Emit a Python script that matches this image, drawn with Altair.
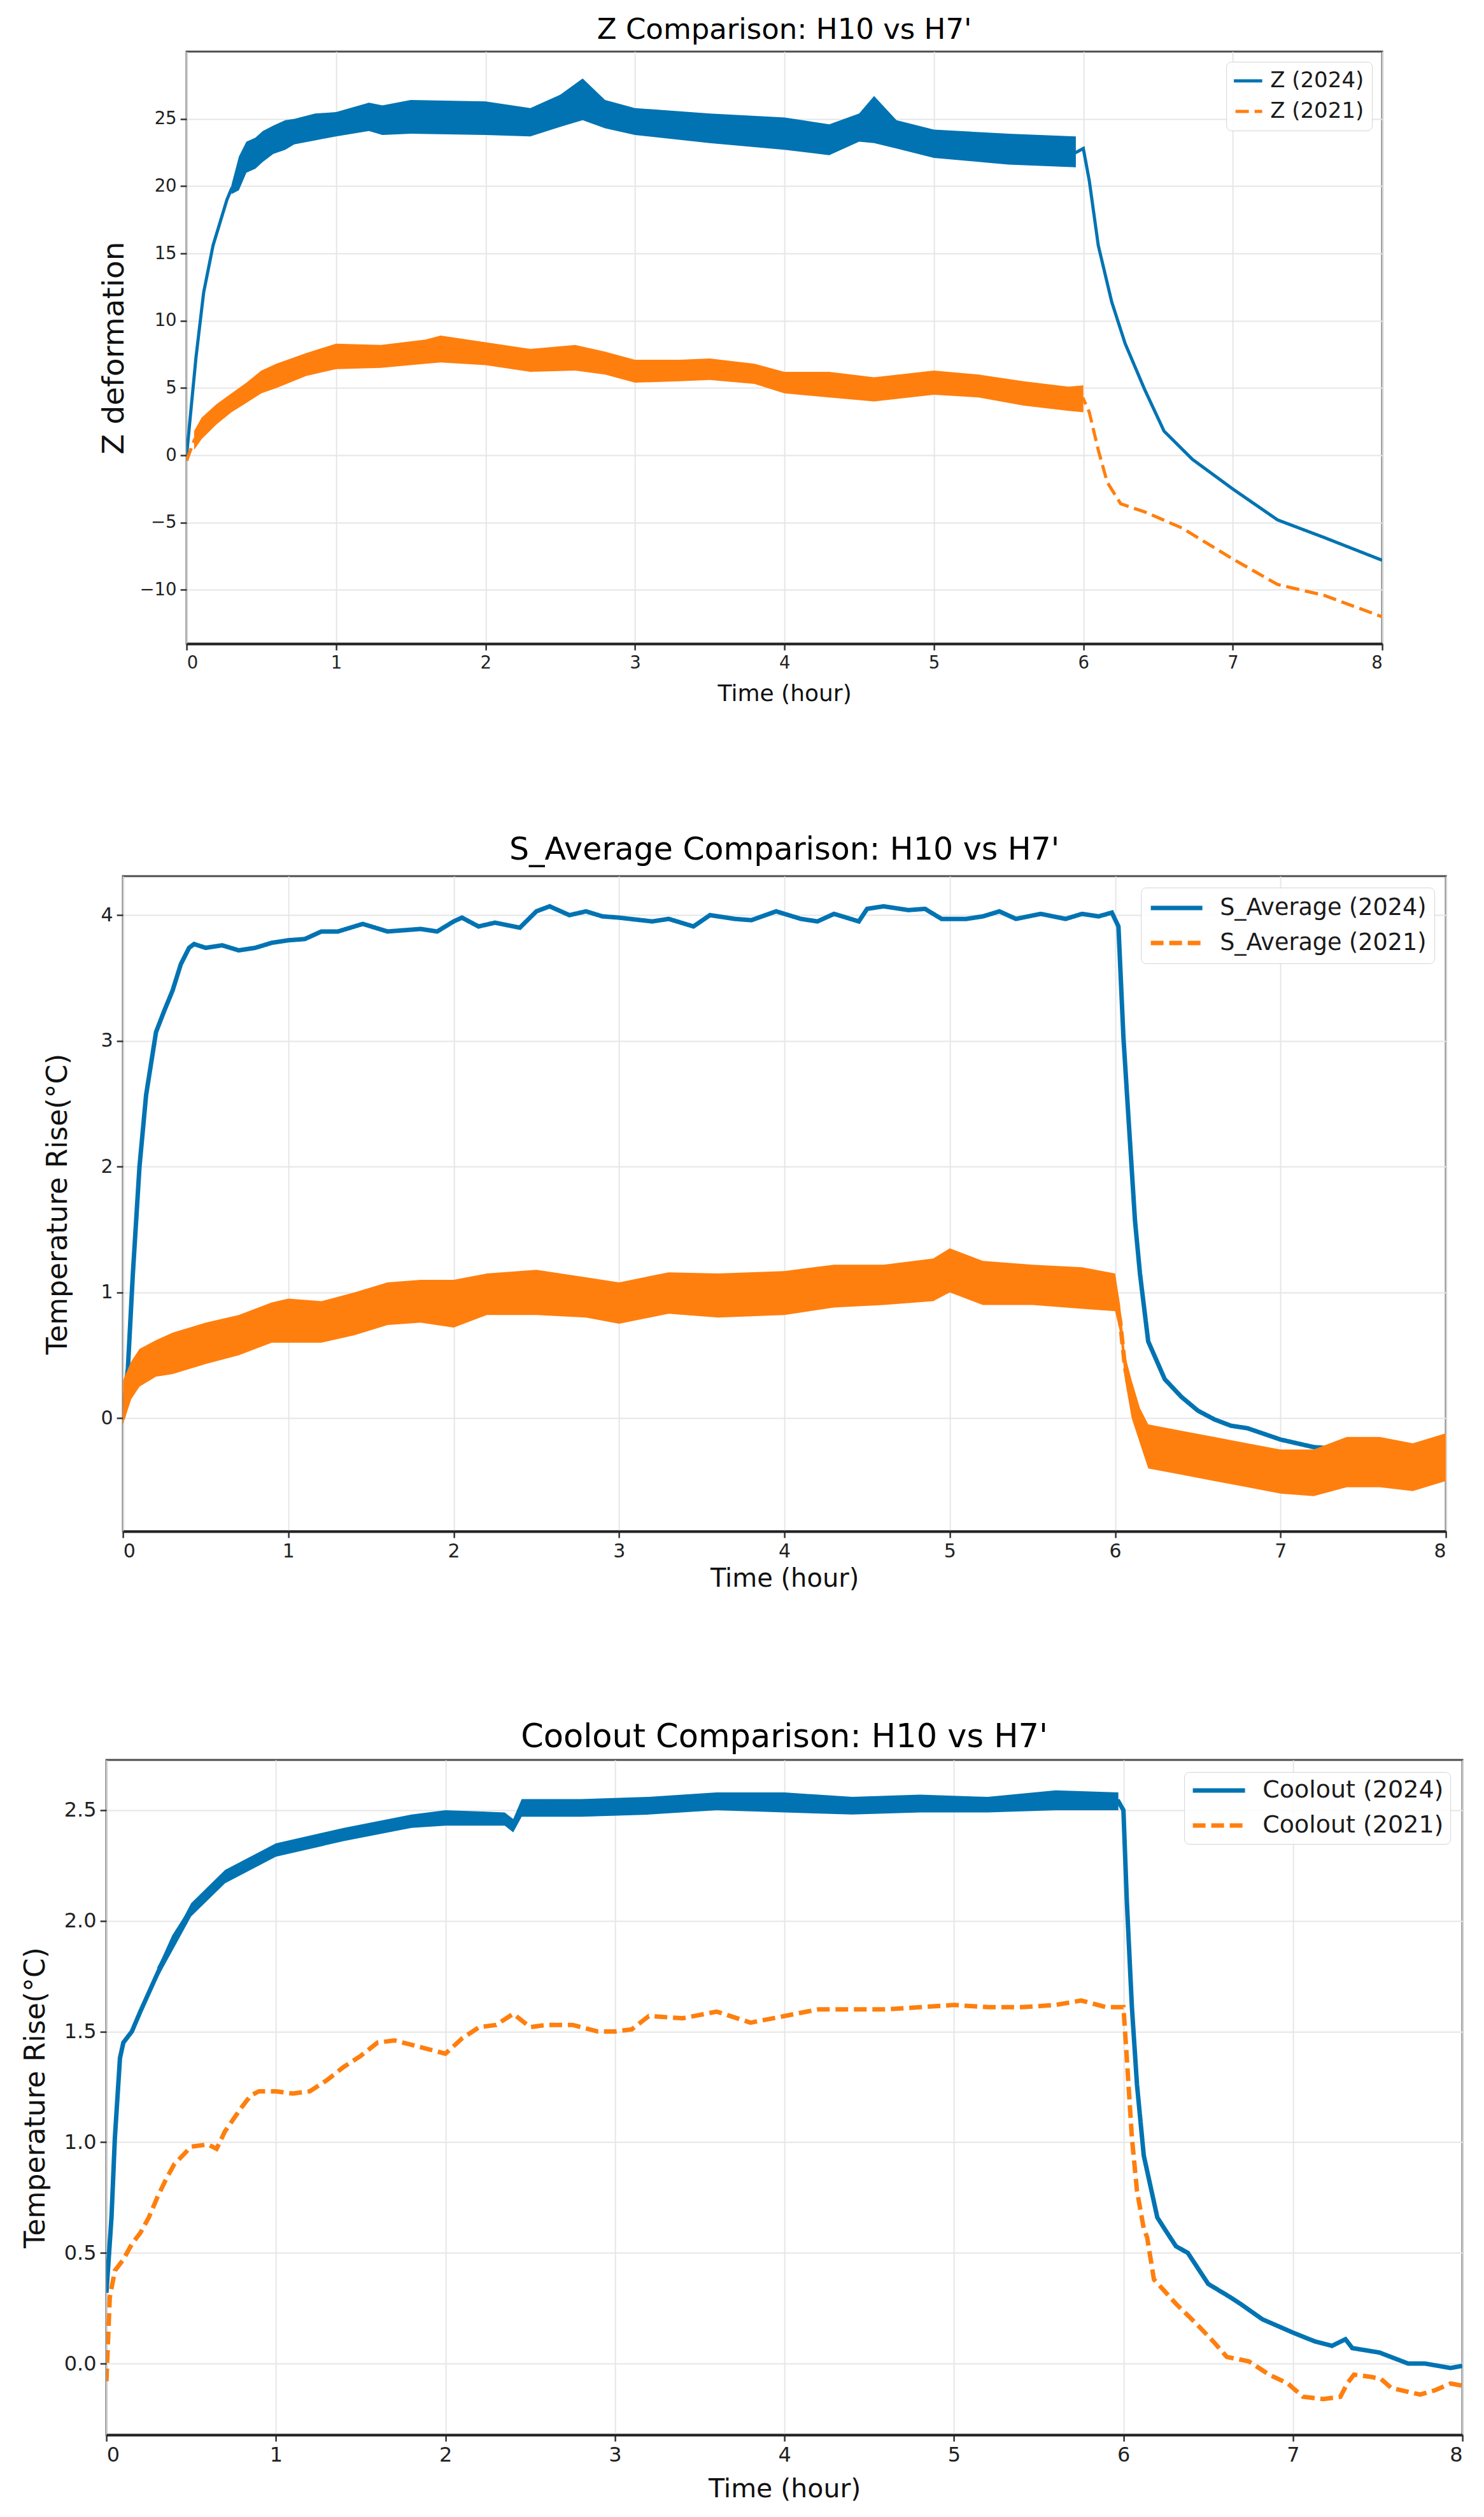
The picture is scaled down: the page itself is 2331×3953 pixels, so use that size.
import altair as alt
import pandas as pd

BLUE = "#0173b2"
ORANGE = "#ff7f0e"
FONT = "DejaVu Sans"

# ---------------- Z deformation ----------------
z24_t = [0, 0.03, 0.063, 0.114, 0.177, 0.27, 0.3, 0.5, 1.0, 2.0, 2.65, 3.0, 4.0, 4.6,
         5.0, 5.95, 6.0, 6.04, 6.1, 6.19, 6.28, 6.41, 6.54, 6.73, 7.0, 7.3, 7.61, 8.0]
z24_v = [0.0, 3.5, 7.3, 12.1, 15.6, 19.0, 19.8, 23.0, 24.6, 25.0, 26.0, 24.8, 23.9, 24.5,
         23.1, 22.5, 22.8, 20.4, 15.6, 11.4, 8.3, 4.9, 1.8, -0.3, -2.5, -4.8, -6.1, -7.8]
z24_band_t = [0.3, 0.35, 0.4, 0.46, 0.51, 0.58, 0.66, 0.72, 0.86, 1.0, 1.22, 1.31, 1.5, 2.0,
              2.3, 2.5, 2.65, 2.8, 3.0, 3.5, 4.0, 4.3, 4.5, 4.6, 4.75, 5.0, 5.5, 5.95]
z24_band_lo = [19.4, 19.7, 21.0, 21.3, 21.8, 22.4, 22.7, 23.1, 23.4, 23.7, 24.1, 23.8, 23.9, 23.8,
               23.7, 24.4, 24.9, 24.3, 23.8, 23.2, 22.7, 22.3, 23.3, 23.2, 22.8, 22.1, 21.6, 21.4]
z24_band_hi = [20.1, 22.2, 23.3, 23.6, 24.1, 24.5, 24.9, 25.0, 25.4, 25.5, 26.2, 26.0, 26.4, 26.3,
               25.8, 26.8, 28.0, 26.4, 25.8, 25.4, 25.1, 24.6, 25.4, 26.7, 24.9, 24.2, 23.9, 23.7]

z21_t = [0, 0.05, 0.1, 0.2, 0.3, 0.4, 0.5, 0.6, 0.8, 1.0, 1.3, 1.6, 2.0, 2.3, 2.6, 2.8, 3.0,
         3.3, 3.5, 3.8, 4.0, 4.3, 4.6, 5.0, 5.3, 5.6, 5.9, 6.0, 6.04, 6.1, 6.16, 6.25, 6.41,
         6.66, 7.0, 7.3, 7.61, 8.0]
z21_v = [-0.4, 1.1, 2.0, 3.0, 3.9, 4.6, 5.4, 5.9, 6.8, 7.3, 7.5, 7.8, 7.5, 7.0, 7.2, 6.8, 6.3,
         6.3, 6.4, 6.1, 5.4, 5.2, 5.0, 5.4, 5.2, 4.6, 4.2, 4.2, 3.2, 0.4, -2.0, -3.6, -4.2,
         -5.4, -7.7, -9.6, -10.4, -12.0]
z21_band_t = [0.05, 0.1, 0.2, 0.3, 0.4, 0.5, 0.6, 0.8, 1.0, 1.3, 1.6, 1.7, 2.0, 2.3, 2.6, 2.8,
              3.0, 3.3, 3.5, 3.8, 4.0, 4.3, 4.6, 5.0, 5.3, 5.6, 5.9, 6.0]
z21_band_lo = [0.4, 1.2, 2.3, 3.2, 3.9, 4.6, 5.0, 5.9, 6.4, 6.5, 6.8, 6.9, 6.7, 6.2, 6.3, 6.0,
               5.4, 5.5, 5.6, 5.3, 4.6, 4.3, 4.0, 4.5, 4.3, 3.7, 3.3, 3.2]
z21_band_hi = [1.8, 2.8, 3.8, 4.6, 5.4, 6.3, 6.8, 7.6, 8.3, 8.2, 8.6, 8.9, 8.4, 7.9, 8.2, 7.7,
               7.1, 7.1, 7.2, 6.8, 6.2, 6.2, 5.8, 6.3, 6.0, 5.5, 5.1, 5.2]

# ---------------- S_Average ----------------
s24_t = [0, 0.03, 0.06, 0.1, 0.14, 0.2, 0.25, 0.3, 0.35, 0.4, 0.43, 0.5, 0.6, 0.7, 0.8, 0.9,
         1.0, 1.1, 1.2, 1.3, 1.4, 1.45, 1.6, 1.8, 1.9, 2.0, 2.05, 2.15, 2.25, 2.4, 2.5, 2.58,
         2.7, 2.8, 2.9, 3.0, 3.2, 3.3, 3.45, 3.55, 3.7, 3.8, 3.95, 4.1, 4.2, 4.3, 4.45, 4.5,
         4.6, 4.75, 4.85, 4.95, 5.1, 5.2, 5.3, 5.4, 5.55, 5.7, 5.8, 5.9, 5.98, 6.02, 6.05,
         6.08, 6.12, 6.15, 6.2, 6.3, 6.4, 6.5, 6.6, 6.7, 6.8, 7.0, 7.2, 7.4, 7.6, 7.8, 8.0]
s24_v = [0.0, 0.4, 1.15, 2.0, 2.57, 3.07, 3.24, 3.4, 3.61, 3.74, 3.77, 3.74, 3.76, 3.72, 3.74,
         3.78, 3.80, 3.81, 3.87, 3.87, 3.91, 3.93, 3.87, 3.89, 3.87, 3.95, 3.98, 3.91, 3.94,
         3.90, 4.03, 4.07, 4.0, 4.03, 3.99, 3.98, 3.95, 3.97, 3.91, 4.0, 3.97, 3.96, 4.03,
         3.97, 3.95, 4.01, 3.95, 4.05, 4.07, 4.04, 4.05, 3.97, 3.97, 3.99, 4.03, 3.97, 4.01,
         3.97, 4.01, 3.99, 4.02, 3.91, 3.03, 2.4, 1.57, 1.15, 0.61, 0.31, 0.17, 0.06, -0.01,
         -0.06, -0.08, -0.17, -0.23, -0.25, -0.27, -0.29, -0.31]

s21_t = [0, 0.05, 0.1, 0.2, 0.3, 0.5, 0.7, 0.9, 1.0, 1.2, 1.4, 1.6, 1.8, 2.0, 2.2, 2.5, 2.8,
         3.0, 3.3, 3.6, 4.0, 4.3, 4.6, 4.9, 5.0, 5.2, 5.5, 5.8, 6.0, 6.03, 6.06, 6.1, 6.15,
         6.2, 6.4, 6.6, 6.8, 7.0, 7.2, 7.4, 7.6, 7.8, 8.0]
s21_v = [0.0, 0.31, 0.4, 0.48, 0.52, 0.6, 0.67, 0.75, 0.77, 0.77, 0.84, 0.92, 0.94, 0.92, 0.98,
         1.0, 0.96, 0.92, 1.0, 0.98, 1.0, 1.07, 1.07, 1.11, 1.19, 1.09, 1.07, 1.04, 1.0, 0.77,
         0.4, 0.15, -0.06, -0.23, -0.27, -0.33, -0.38, -0.42, -0.44, -0.38, -0.36, -0.38, -0.33]
s21_lo = [-0.05, 0.15, 0.25, 0.33, 0.35, 0.43, 0.5, 0.6, 0.6, 0.6, 0.66, 0.74, 0.76, 0.72, 0.82,
          0.82, 0.8, 0.75, 0.83, 0.8, 0.82, 0.88, 0.9, 0.93, 1.0, 0.9, 0.9, 0.87, 0.85, 0.68,
          0.3, 0.0, -0.2, -0.4, -0.45, -0.5, -0.55, -0.6, -0.62, -0.55, -0.55, -0.58, -0.5]
s21_hi = [0.3, 0.45, 0.55, 0.62, 0.68, 0.76, 0.82, 0.92, 0.95, 0.93, 1.0, 1.08, 1.1, 1.1, 1.15,
          1.18, 1.12, 1.08, 1.16, 1.15, 1.17, 1.22, 1.22, 1.27, 1.35, 1.25, 1.22, 1.2, 1.15, 0.9,
          0.5, 0.3, 0.08, -0.05, -0.1, -0.15, -0.2, -0.25, -0.25, -0.15, -0.15, -0.2, -0.12]

# ---------------- Coolout ----------------
c24_t = [0, 0.03, 0.05, 0.08, 0.1, 0.15, 0.2, 0.3, 0.4, 0.5, 0.6, 0.7, 0.8, 0.9, 1.0, 1.2,
         1.4, 1.6, 1.8, 2.0, 2.2, 2.35, 2.4, 2.45, 2.6, 2.8, 3.0, 3.3, 3.6, 3.8, 4.0, 4.3,
         4.6, 4.9, 5.2, 5.5, 5.8, 5.97, 6.0, 6.02, 6.05, 6.08, 6.12, 6.2, 6.25, 6.31, 6.38,
         6.5, 6.63, 6.69, 6.82, 7.0, 7.13, 7.23, 7.31, 7.35, 7.51, 7.68, 7.78, 7.93, 8.0]
c24_v = [0.32, 0.66, 1.02, 1.38, 1.45, 1.5, 1.59, 1.76, 1.93, 2.05, 2.13, 2.2, 2.25, 2.28,
         2.32, 2.36, 2.39, 2.42, 2.45, 2.46, 2.47, 2.45, 2.43, 2.51, 2.52, 2.51, 2.5, 2.51,
         2.54, 2.51, 2.54, 2.51, 2.52, 2.53, 2.52, 2.54, 2.54, 2.54, 2.5, 2.09, 1.61, 1.26,
         0.94, 0.66, 0.6, 0.53, 0.5, 0.36, 0.30, 0.27, 0.20, 0.14, 0.10, 0.08, 0.11, 0.07,
         0.05, 0.0, 0.0, -0.02, -0.01]
c24_band_t = [0.3, 0.5, 0.7, 1.0, 1.4, 1.8, 2.0, 2.35, 2.4, 2.45, 2.8, 3.2, 3.6, 4.0, 4.4,
              4.8, 5.2, 5.6, 5.97]
c24_band_lo = [1.74, 2.02, 2.17, 2.29, 2.36, 2.42, 2.43, 2.43, 2.40, 2.47, 2.47, 2.48, 2.50,
               2.49, 2.48, 2.49, 2.49, 2.50, 2.50]
c24_band_hi = [1.79, 2.08, 2.23, 2.35, 2.42, 2.48, 2.50, 2.49, 2.46, 2.55, 2.55, 2.56, 2.58,
               2.58, 2.56, 2.57, 2.56, 2.59, 2.58]

c21_t = [0, 0.02, 0.05, 0.1, 0.15, 0.2, 0.25, 0.3, 0.35, 0.4, 0.5, 0.6, 0.65, 0.7, 0.8, 0.85,
         0.9, 1.0, 1.1, 1.2, 1.3, 1.4, 1.5, 1.6, 1.7, 1.8, 1.9, 2.0, 2.1, 2.2, 2.3, 2.4, 2.5,
         2.6, 2.75, 2.9, 3.0, 3.1, 3.2, 3.4, 3.6, 3.8, 4.0, 4.2, 4.4, 4.6, 4.8, 5.0, 5.2, 5.4,
         5.6, 5.75, 5.9, 6.0, 6.02, 6.05, 6.08, 6.12, 6.14, 6.18, 6.24, 6.31, 6.43, 6.53, 6.61,
         6.74, 6.86, 6.97, 7.06, 7.18, 7.28, 7.32, 7.36, 7.46, 7.52, 7.58, 7.75, 7.84, 7.93, 8.0]
c21_v = [-0.08, 0.3, 0.42, 0.47, 0.54, 0.59, 0.66, 0.75, 0.83, 0.9, 0.98, 0.99, 0.97, 1.05,
         1.16, 1.21, 1.23, 1.23, 1.22, 1.23, 1.28, 1.34, 1.39, 1.45, 1.46, 1.44, 1.42, 1.4,
         1.47, 1.52, 1.53, 1.58, 1.52, 1.53, 1.53, 1.5, 1.5, 1.51, 1.57, 1.56, 1.59, 1.54,
         1.57, 1.6, 1.6, 1.6, 1.61, 1.62, 1.61, 1.61, 1.62, 1.64, 1.61, 1.61, 1.38, 1.02,
         0.78, 0.61, 0.57, 0.38, 0.33, 0.27, 0.18, 0.10, 0.03, 0.01, -0.05, -0.09, -0.15,
         -0.16, -0.15, -0.09, -0.05, -0.06, -0.07, -0.11, -0.14, -0.12, -0.09, -0.10]

x_ticks = [0, 1, 2, 3, 4, 5, 6, 7, 8]


def make_legend(s):
    opts = dict(title=None, orient="top-right", offset=s["loff"], padding=s["lpad"],
                fillColor="rgba(255,255,255,0.85)", strokeColor="#d4d4d4",
                cornerRadius=8, symbolType="stroke", symbolSize=s["sym"] ** 2,
                symbolStrokeWidth=s["lw"], labelFontSize=s["leg"], labelFont=FONT,
                labelColor="#1a1a1a", labelOffset=s["loffset"], rowPadding=s["rowpad"],
                clipHeight=s["clip"], labelLimit=600)
    try:
        return alt.Legend(symbolOffset=s["symoff"], **opts)
    except Exception:
        return alt.Legend(**opts)


def panel(name, ytitle, lines, bands, ydom, yvals, yfmt, w, h, s):
    lab24, lab21 = f"{name} (2024)", f"{name} (2021)"
    x = alt.X("t:Q", scale=alt.Scale(domain=[0, 8], nice=False, zero=False),
              axis=alt.Axis(values=x_ticks, format="d", title="Time (hour)",
                            labelFontSize=s["tick"], titleFontSize=s["axis"],
                            titlePadding=s["xpad"], domain=True, domainColor="#222",
                            domainWidth=4))
    yscale = alt.Scale(domain=ydom, nice=False, zero=False)
    yaxis = alt.Axis(values=yvals, format=yfmt, title=ytitle, labelFontSize=s["tick"],
                     titleFontSize=s["ytitle"], titlePadding=s["ypad"], domain=False)
    leg = make_legend(s)
    color = alt.Color("s:N", scale=alt.Scale(domain=[lab24, lab21], range=[BLUE, ORANGE]),
                      legend=leg)
    dash = alt.StrokeDash("s:N", scale=alt.Scale(domain=[lab24, lab21],
                                                 range=[[1, 0], s["dash"]]), legend=leg)
    layers = []
    for lab, col, (lt, lv), band in zip([lab24, lab21], [BLUE, ORANGE], lines, bands):
        if band is not None:
            bt, blo, bhi = band
            bdf = pd.DataFrame({"t": bt, "lo": blo, "hi": bhi})
            layers.append(alt.Chart(bdf).mark_area(color=col, opacity=1, clip=True).encode(
                x=x, y=alt.Y("lo:Q", scale=yscale, axis=yaxis), y2="hi:Q"))
        ldf = pd.DataFrame({"t": lt, "v": lv, "s": lab})
        layers.append(alt.Chart(ldf).mark_line(strokeWidth=s["lw"], clip=True).encode(
            x=x, y=alt.Y("v:Q", scale=yscale, axis=yaxis), color=color, strokeDash=dash))
    return alt.layer(*layers).properties(
        width=w, height=h,
        title=alt.TitleParams(f"{name} Comparison: H10 vs H7'", fontSize=s["title"], font=FONT,
                              fontWeight="normal", color="#000", baseline="alphabetic",
                              offset=s["toff"]))


s1 = dict(tick=27.5, axis=36, ytitle=47, title=45, leg=34, xpad=18, ypad=16, loff=16, lpad=12,
          sym=72, lw=5, loffset=10, symoff=-30, rowpad=12, clip=36, dash=[21, 9], toff=-25)
s2 = dict(tick=30, axis=40, ytitle=44, title=49, leg=36.5, xpad=8, ypad=45, loff=18, lpad=12,
          sym=81, lw=7, loffset=24, symoff=0, rowpad=15, clip=40, dash=[20, 9], toff=-23)
s3 = dict(tick=32, axis=41, ytitle=44, title=51, leg=38, xpad=18, ypad=22, loff=19, lpad=10,
          sym=82, lw=7, loffset=24, symoff=0, rowpad=17, clip=38, dash=[20, 9], toff=-31)

c1 = panel("Z", "Z deformation", [(z24_t, z24_v), (z21_t, z21_v)],
           [(z24_band_t, z24_band_lo, z24_band_hi), (z21_band_t, z21_band_lo, z21_band_hi)],
           [-14.0, 30.0], [-10, -5, 0, 5, 10, 15, 20, 25], "d", 1878, 930, s1)
c2 = panel("S_Average", "Temperature Rise(°C)", [(s24_t, s24_v), (s21_t, s21_v)],
           [None, (s21_t, s21_lo, s21_hi)],
           [-0.90, 4.31], [0, 1, 2, 3, 4], "d", 2078, 1029, s2)
c3 = panel("Coolout", "Temperature Rise(°C)", [(c24_t, c24_v), (c21_t, c21_v)],
           [(c24_band_t, c24_band_lo, c24_band_hi), None],
           [-0.322, 2.727], [0, 0.5, 1.0, 1.5, 2.0, 2.5], ".1f", 2130, 1060, s3)

chart = alt.vconcat(c1, c2, c3, spacing=200, center=True).resolve_scale(
    color="independent", strokeDash="independent", x="independent", y="independent"
).resolve_legend(
    color="independent", strokeDash="independent"
).properties(
    padding={"left": 24, "top": 15, "right": 5, "bottom": 5}
).configure_view(
    stroke="#4d4d4d", strokeWidth=3
).configure_axis(
    grid=True, gridColor="#e6e6e6", gridWidth=2, tickColor="#333", tickWidth=2.5,
    tickSize=10, labelPadding=6, labelColor="#222", labelFont=FONT, titleFont=FONT,
    titleFontWeight="normal", titleColor="#111"
)

chart.save("out.html", embed_options={"renderer": "svg", "actions": False})
